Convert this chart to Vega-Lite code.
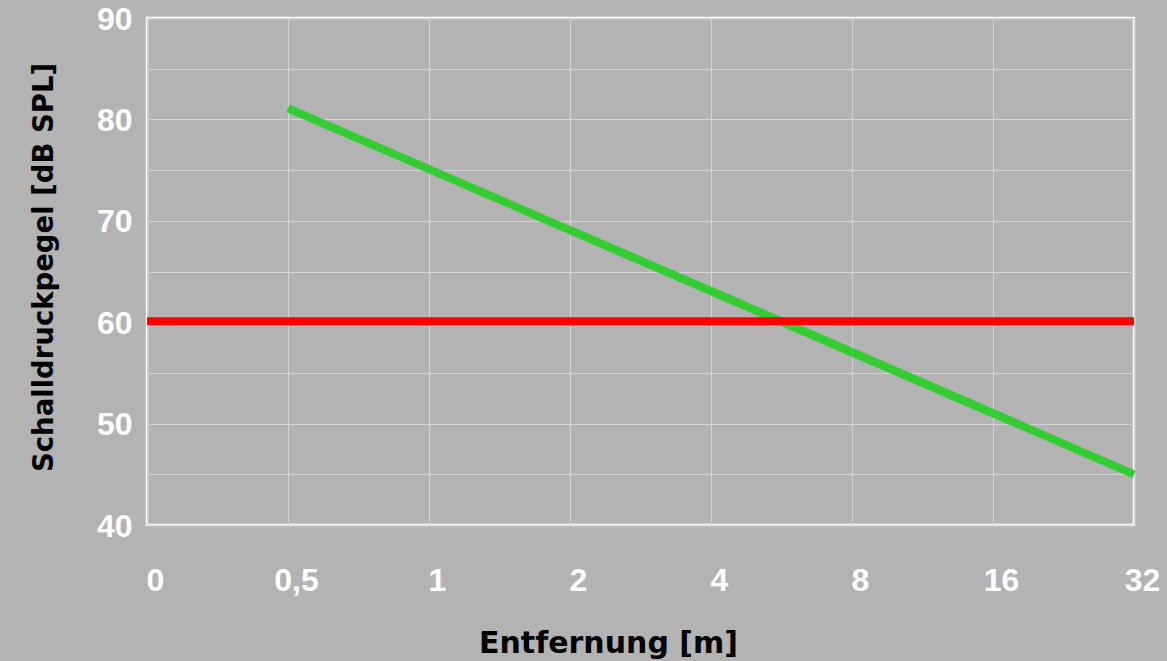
{
  "$schema": "https://vega.github.io/schema/vega-lite/v6.json",
  "width": 987,
  "height": 507,
  "autosize": {"type": "none"},
  "padding": {"left": 147, "top": 18, "right": 33, "bottom": 136},
  "background": "#b3b3b3",
  "config": {
    "view": {"stroke": "#ffffff", "strokeWidth": 2.5, "fill": "#b3b3b3"},
    "axis": {"gridColor": "#d4d4d4", "gridWidth": 1, "gridOpacity": 1, "domain": false, "ticks": false}
  },
  "data": {
    "values": [
      {"series": "Pegel", "dist": "0,5", "spl": 81.1},
      {"series": "Pegel", "dist": "1", "spl": 75.1},
      {"series": "Pegel", "dist": "2", "spl": 69.1},
      {"series": "Pegel", "dist": "4", "spl": 63.1},
      {"series": "Pegel", "dist": "8", "spl": 57.0},
      {"series": "Pegel", "dist": "16", "spl": 51.0},
      {"series": "Pegel", "dist": "32", "spl": 45.0},
      {"series": "Grenze", "dist": "0", "spl": 60.1},
      {"series": "Grenze", "dist": "32", "spl": 60.1}
    ]
  },
  "mark": {"type": "line", "strokeWidth": 8, "strokeCap": "butt"},
  "encoding": {
    "x": {
      "field": "dist",
      "type": "ordinal",
      "sort": ["0", "0,5", "1", "2", "4", "8", "16", "32"],
      "scale": {"type": "point", "padding": 0, "domain": ["0", "0,5", "1", "2", "4", "8", "16", "32"]},
      "axis": {
        "title": "Entfernung [m]",
        "titleFont": "DejaVu Sans",
        "titleFontSize": 30,
        "titleFontWeight": "bold",
        "titleColor": "#000000",
        "titleX": 461,
        "titleY": 127,
        "titleBaseline": "alphabetic",
        "titleAlign": "center",
        "labelFont": "Liberation Sans",
        "labelFontSize": 32,
        "labelFontWeight": "bold",
        "labelColor": "#ffffff",
        "labelAngle": 0,
        "labelOffset": 8,
        "labelBaseline": "top",
        "labelPadding": 40,
        "labelOverlap": false,
        "labelBound": false,
        "labelFlush": false,
        "grid": true
      }
    },
    "y": {
      "field": "spl",
      "type": "quantitative",
      "scale": {"domain": [40, 90], "nice": false, "zero": false},
      "axis": {
        "title": "Schalldruckpegel [dB SPL]",
        "titleFont": "DejaVu Sans",
        "titleFontSize": 27.5,
        "titleFontWeight": "bold",
        "titleColor": "#000000",
        "titleX": -95,
        "titleY": 249,
        "titleAngle": -90,
        "titleBaseline": "alphabetic",
        "titleAlign": "center",
        "values": [40, 45, 50, 55, 60, 65, 70, 75, 80, 85, 90],
        "labelExpr": "datum.value % 10 == 0 ? datum.label : ''",
        "labelFont": "Liberation Sans",
        "labelFontSize": 32,
        "labelFontWeight": "bold",
        "labelColor": "#ffffff",
        "labelPadding": 15,
        "labelOffset": 1,
        "labelOverlap": false,
        "labelBound": false,
        "labelFlush": false,
        "grid": true
      }
    },
    "color": {
      "field": "series",
      "type": "nominal",
      "scale": {"domain": ["Pegel", "Grenze"], "range": ["#33cc33", "#ff0000"]},
      "legend": null
    },
    "order": {"field": "dist"}
  }
}
